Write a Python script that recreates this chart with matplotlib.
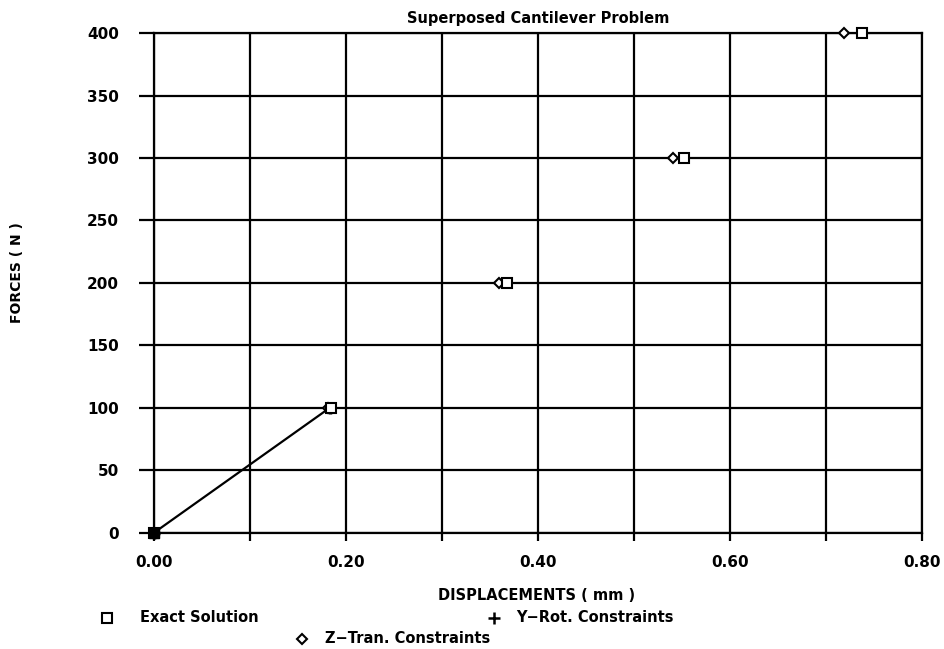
import numpy as np
import matplotlib.pyplot as plt
from matplotlib.lines import Line2D

# values
forces = [0, 100, 200, 300, 400]
exact_disp = [0.0, 0.184, 0.368, 0.552, 0.737]
ztran_disp = [0.0, 0.181, 0.359, 0.540, 0.719]
yrot_forces = [0, 100]
yrot_disp = [0.0, 0.183]

plt.rcParams['font.family'] = 'DejaVu Sans'
plt.rcParams['font.weight'] = 'bold'

fig = plt.figure(figsize=(9.44, 6.49), dpi=100)
ax = fig.add_axes([0.163, 0.179, 0.814, 0.770])

ax.plot(yrot_disp, yrot_forces, color='black', lw=1.6, marker='+',
        ms=9, mew=2.5, zorder=3, clip_on=False)
ax.plot(exact_disp, forces, ls='none', marker='s', ms=7, mfc='white',
        mec='black', mew=1.5, zorder=4, clip_on=False)
ax.plot(ztran_disp, forces, ls='none', marker='D', ms=5, mfc='white',
        mec='black', mew=1.5, zorder=3, clip_on=False)
# filled blob at the origin where all series start
ax.plot([0], [0], ls='none', marker='s', ms=7, color='black', zorder=5,
        clip_on=False)

ax.set_xlim(0, 0.8)
ax.set_ylim(0, 400)
ax.set_xticks(np.arange(0, 0.81, 0.1))
ax.set_xticklabels(['0.00', '', '0.20', '', '0.40', '', '0.60', '', '0.80'])
ax.set_yticks(np.arange(0, 401, 50))
ax.grid(True, color='black', lw=1.6)
for s in ax.spines.values():
    s.set_linewidth(1.6)
ax.tick_params(axis='y', length=11, width=1.6, pad=14, labelsize=11)
ax.tick_params(axis='x', length=6, width=1.6, pad=10, labelsize=11)

ax.set_title('Superposed Cantilever Problem', fontsize=10.5,
             fontweight='bold', pad=7)
fig.text(0.568, 0.082, 'DISPLACEMENTS ( mm )', fontsize=10.5,
         fontweight='bold', ha='center', va='center')
fig.text(0.018, 0.58, 'FORCES ( N )', rotation=90, fontsize=10,
         ha='center', va='center')

# legend laid out below the axes like the original
fig.add_artist(Line2D([0.1133], [0.048], marker='s', ms=7, mfc='white',
                      mec='black', mew=1.5, ls='none'))
fig.text(0.148, 0.048, 'Exact Solution', fontsize=10.5, va='center')
fig.add_artist(Line2D([0.523], [0.048], marker='+', ms=8, color='black',
                      mew=1.8, ls='none'))
fig.text(0.547, 0.048, 'Y\u2212Rot. Constraints', fontsize=10.5,
         va='center')
fig.add_artist(Line2D([0.32], [0.016], marker='D', ms=5, mfc='white',
                      mec='black', mew=1.5, ls='none'))
fig.text(0.344, 0.016, 'Z\u2212Tran. Constraints', fontsize=10.5,
         va='center')

fig.savefig('out.png', dpi=100)
